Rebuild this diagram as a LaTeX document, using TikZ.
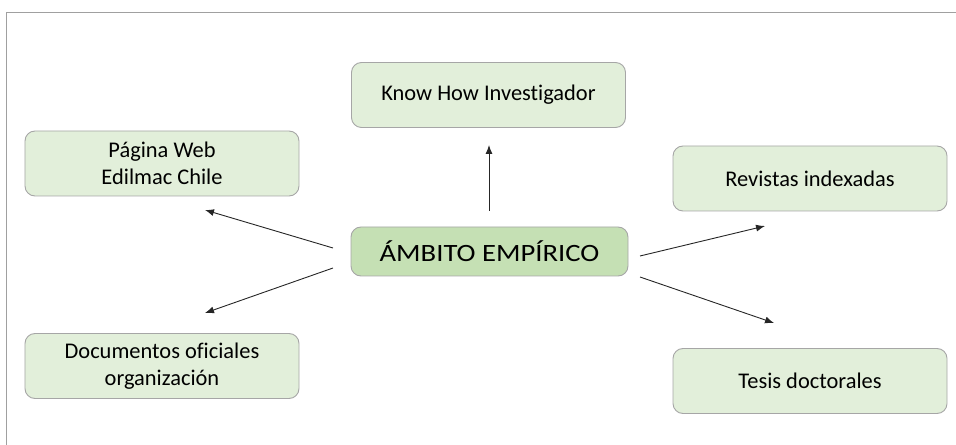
\documentclass[tikz,border=0pt]{standalone}
\usepackage{fontspec}
\setmainfont[Ligatures=NoCommon]{Carlito}
\newfontfamily\corefont[Ligatures=NoCommon,FakeStretch=1.15]{Carlito}
\usetikzlibrary{arrows.meta}
\definecolor{boxfill}{HTML}{E2EFDA}
\definecolor{corefill}{HTML}{C5E0B4}
\definecolor{boxline}{HTML}{A6A6A6}
\definecolor{frameline}{HTML}{A0A0A0}
\tikzset{
  leaf/.style={draw=boxline, fill=boxfill, line width=0.9bp, rounded corners=10bp,
    minimum width=274bp, minimum height=65bp, align=center,
    font=\fontsize{22.5}{26.5}\selectfont, inner sep=0pt},
  core/.style={leaf, fill=corefill, minimum width=277bp, minimum height=49bp,
    font=\corefont\fontsize{25}{29}\selectfont},
  link/.style={draw=black!85, line width=0.9bp, -{Latex[length=9bp,width=7bp]}}
}
\begin{document}
\begin{tikzpicture}[x=1bp, y=-1bp]
  \useasboundingbox (0,0) rectangle (956,445);
  % open frame: top and left edges only
  \draw[frameline, line width=1.2bp] (956,12.5) -- (6.5,12.5) -- (6.5,445);

  % central topic
  \node[core] (core) at (489.5,251.5) {ÁMBITO EMPÍRICO};

  % surrounding sources
  \node[leaf] (know) at (488.5,95) {Know How Investigador};
  \node[leaf] (web)  at (162,163.5) {Página Web\\Edilmac Chile};
  \node[leaf] (docs) at (162,366) {Documentos oficiales\\organización};
  \node[leaf] (rev)  at (810,178.5) {Revistas indexadas};
  \node[leaf] (tesis) at (810,381) {Tesis doctorales};

  % arrow end points
  \coordinate (upS) at (489,211);   \coordinate (upE) at (489,145);
  \coordinate (luS) at (333,248);   \coordinate (luE) at (205,210);
  \coordinate (ldS) at (333,268);   \coordinate (ldE) at (205,313);
  \coordinate (ruS) at (640,256);   \coordinate (ruE) at (765,226);
  \coordinate (rdS) at (640,277);   \coordinate (rdE) at (774,323);

  \draw[link] (upS) -- (upE);
  \draw[link] (luS) -- (luE);
  \draw[link] (ldS) -- (ldE);
  \draw[link] (ruS) -- (ruE);
  \draw[link] (rdS) -- (rdE);
\end{tikzpicture}
\end{document}
